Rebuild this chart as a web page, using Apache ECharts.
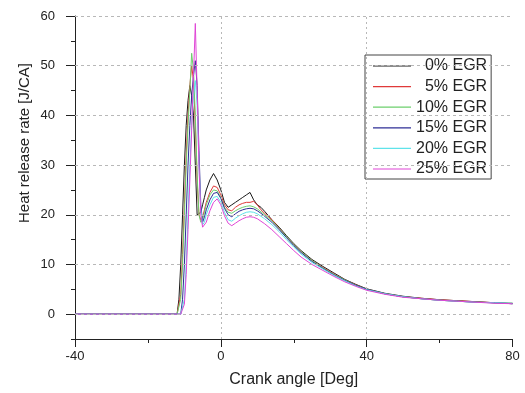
<!DOCTYPE html>
<html>
<head>
<meta charset="utf-8">
<script src="https://cdn.jsdelivr.net/npm/echarts@6/dist/echarts.min.js"></script>
<style>html,body{margin:0;padding:0;background:#fff;}#c{width:525px;height:393px;}</style>
</head>
<body>
<div id="c"></div>
<script>
const angles = [-40, -12, -11.5, -11, -10.5, -10, -9.5, -9, -8.5, -8, -7.5, -7, -6.5, -6, -5.5, -5, -4.5, -4, -3, -2, -1, 0, 1, 2, 3, 4, 5, 6, 7, 8, 9, 10, 11, 12, 14, 16, 18, 20, 22, 25, 28, 31, 34, 37, 40, 45, 50, 55, 60, 65, 70, 75, 80];
const egr0  = [0, 0, 3, 10, 20, 30, 38, 43, 46, 44, 40, 30, 20, 20, 20.5, 22, 23.5, 25, 27, 28.3, 27, 25, 22.5, 21.5, 22, 22.5, 23, 23.5, 24, 24.5, 23, 22, 21.5, 20.7, 19, 17.5, 15.8, 14.2, 12.8, 11, 9.6, 8.3, 7, 6, 5.1, 4.2, 3.6, 3.2, 2.9, 2.7, 2.5, 2.3, 2.1];
const egr5  = [0, 0, 0, 4, 12, 22, 32, 40, 46, 50, 47, 38, 27, 20, 19, 19.5, 21, 22.5, 24.5, 25.8, 25.5, 24, 22, 21, 20.8, 21.5, 22, 22.3, 22.5, 22.5, 22.7, 22, 21, 20.3, 19, 17.3, 15.6, 14, 12.6, 10.8, 9.4, 8.1, 6.9, 5.9, 5.0, 4.1, 3.5, 3.2, 2.9, 2.7, 2.5, 2.3, 2.2];
const egr10 = [0, 0, 0, 3, 10, 20, 30, 38, 45, 52.5, 49, 40, 28, 20, 18.5, 19, 20.5, 22, 24, 25, 24.8, 23.5, 21.5, 20.5, 20.3, 20.8, 21.2, 21.5, 21.7, 21.8, 21.6, 21.2, 20.6, 20, 18.8, 17.2, 15.6, 14, 12.6, 10.8, 9.3, 8, 6.9, 5.8, 5, 4.1, 3.5, 3.1, 2.8, 2.6, 2.4, 2.3, 2.2];
const egr15 = [0, 0, 0, 0, 3, 10, 20, 30, 38, 44, 48, 51, 46, 33, 22, 18.5, 19.5, 21, 23, 24.3, 24.5, 23.3, 21.3, 20, 19.6, 20.2, 20.7, 21, 21.2, 21.3, 21.2, 20.8, 20.3, 19.7, 18.5, 17, 15.4, 13.8, 12.4, 10.6, 9.2, 7.9, 6.8, 5.8, 5, 4.1, 3.5, 3.1, 2.8, 2.6, 2.4, 2.3, 2.1];
const egr20 = [0, 0, 0, 0, 0, 3, 10, 20, 30, 38, 44, 47, 42, 30, 21, 18, 18.5, 20, 22, 23.5, 23.7, 22.5, 20.5, 19, 18.7, 19.3, 19.8, 20.2, 20.5, 20.6, 20.5, 20.2, 19.7, 19.2, 18, 16.6, 15, 13.5, 12.1, 10.4, 9.1, 7.8, 6.7, 5.7, 4.9, 4.1, 3.5, 3.1, 2.8, 2.6, 2.4, 2.3, 2.2];
const egr25 = [0, 0, 0, 0, 0, 2, 8, 17, 27, 37, 48, 58.5, 45, 30, 20, 17.5, 17.2, 18.5, 20.8, 22.5, 23.2, 22, 19.8, 18.3, 17.8, 18.3, 18.8, 19.2, 19.5, 19.6, 19.5, 19.2, 18.7, 18.2, 17, 15.6, 14.2, 12.8, 11.5, 10, 8.8, 7.6, 6.5, 5.6, 4.8, 4.0, 3.4, 3.1, 2.8, 2.6, 2.4, 2.2, 2.1];
const seriesNames = ['0% EGR', '5% EGR', '10% EGR', '15% EGR', '20% EGR', '25% EGR'];
const seriesValues = [egr0, egr5, egr10, egr15, egr20, egr25];
const seriesColors = ['#1a1a1a', '#e03a3a', '#6ccf6c', '#2e2e96', '#5fe3ea', '#e045d6'];
const yMajorTicks = [0, 10, 20, 30, 40, 50, 60];
const xLabelTicks = [-40, 0, 40, 80];
const yGridValues = [0, 10, 20, 30, 40, 50, 60];
const xGridValues = [0, 40];

const FONT = 'Liberation Sans, Arial, sans-serif';
const chart = echarts.init(document.getElementById('c'));

const gridSeries = {
  name: 'grid',
  type: 'line',
  symbol: 'none',
  showSymbol: false,
  silent: true,
  animation: false,
  lineStyle: { opacity: 0 },
  data: [[angles[0], 0]],
  markLine: {
    silent: true,
    symbol: 'none',
    label: { show: false },
    animation: false,
    data: yGridValues.map(v => ({ yAxis: v, lineStyle: { type: [3, 3], color: '#b8b8b8', width: 1 } }))
      .concat(xGridValues.map(v => ({ xAxis: v, lineStyle: { type: [2, 3], color: '#b8b8b8', width: 1 } })))
  }
};

const series = [gridSeries].concat(seriesNames.map((name, i) => ({
  name: name,
  type: 'line',
  xAxisIndex: 0,
  yAxisIndex: 0,
  symbol: 'none',
  showSymbol: false,
  animation: false,
  lineStyle: { width: 1, color: seriesColors[i] },
  itemStyle: { color: seriesColors[i] },
  data: angles.map((a, k) => [a, seriesValues[i][k]])
})));

chart.setOption({
  animation: false,
  backgroundColor: '#ffffff',
  grid: { left: 75, right: 12.5, top: 16, bottom: 54, containLabel: false },
  xAxis: [{
    type: 'value', min: -40, max: 80, interval: 40,
    axisLine: { onZero: false, lineStyle: { color: '#222', width: 1 } },
    axisTick: { show: true, length: 8, lineStyle: { color: '#222' } },
    minorTick: { show: true, splitNumber: 2, length: 4, lineStyle: { color: '#222' } },
    splitLine: { show: false },
    axisLabel: { color: '#222', fontSize: 13, fontFamily: FONT, margin: 11,
      formatter: v => xLabelTicks.indexOf(v) >= 0 ? String(v) : '' },
    name: 'Crank angle [Deg]', nameLocation: 'middle', nameGap: 33,
    nameTextStyle: { color: '#222', fontSize: 16, fontFamily: FONT }
  }],
  yAxis: [{
    type: 'value', min: -5, max: 60, interval: 5,
    axisLine: { show: true, onZero: false, lineStyle: { color: '#222', width: 1 } },
    axisTick: { show: true, length: 4, lineStyle: { color: '#222' } },
    splitLine: { show: false },
    axisLabel: { color: '#222', fontSize: 13, fontFamily: FONT, margin: 20,
      formatter: v => yMajorTicks.indexOf(v) >= 0 ? String(v) : '' }
  }, {
    type: 'value', min: -5, max: 60, interval: 5, position: 'left', offset: 0,
    axisLine: { show: false, onZero: false },
    axisTick: { show: true, length: 9, customValues: yMajorTicks, lineStyle: { color: '#222' } },
    axisLabel: { show: false },
    splitLine: { show: false }
  }],
  legend: {
    orient: 'vertical',
    left: 365, top: 55,
    padding: [3, 4, 2, 8],
    icon: 'rect',
    itemWidth: 38, itemHeight: 1.2, itemGap: 4.6,
    itemStyle: { borderWidth: 0 },
    borderColor: '#444', borderWidth: 1,
    backgroundColor: '#fff',
    textStyle: { color: '#222', fontSize: 16, fontFamily: FONT, lineHeight: 16 },
    formatter: name => (name.length < 7 ? '  ' : '') + name,
    data: seriesNames
  },
  graphic: [{
    type: 'text',
    x: 25, y: 143,
    rotation: Math.PI / 2,
    style: {
      text: 'Heat release rate [J/CA]',
      fill: '#222',
      font: '15px ' + FONT,
      textAlign: 'center',
      textVerticalAlign: 'middle'
    }
  }],
  series: series
});
</script>
</body>
</html>
